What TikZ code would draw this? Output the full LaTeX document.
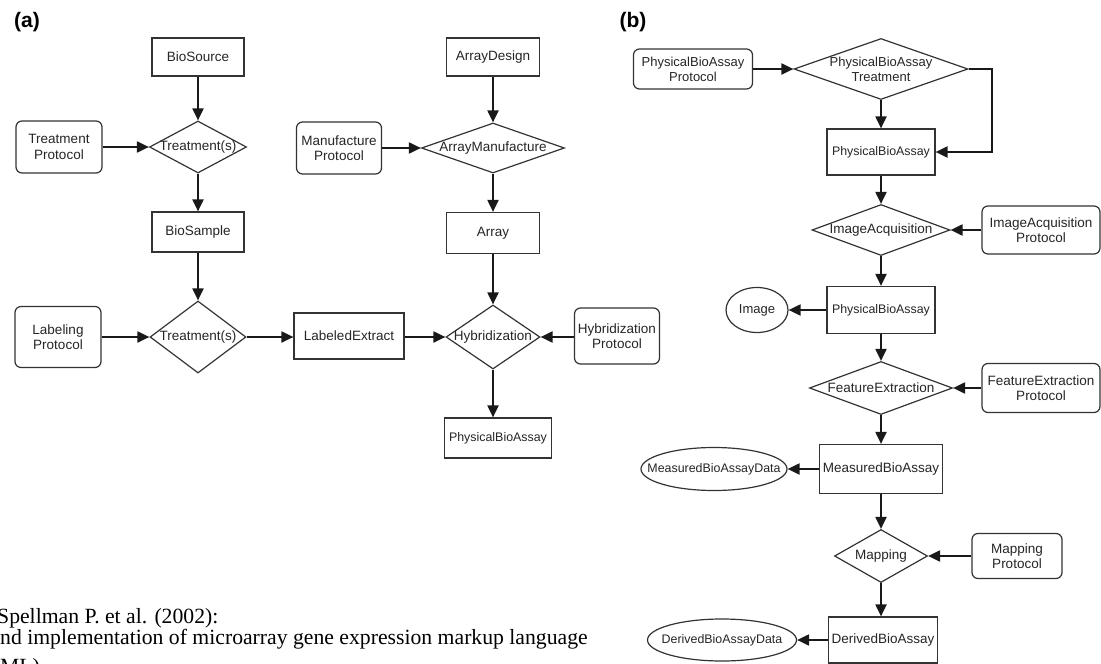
\documentclass[tikz,border=0pt]{standalone}
\usepackage{fontspec}
\setmainfont{Liberation Serif}
\setsansfont{Liberation Sans}
\usetikzlibrary{shapes.geometric,arrows.meta}
\tikzset{
  afont/.style={font=\sffamily\fontsize{13.5}{15.5}\selectfont},
  sfont/.style={font=\sffamily\fontsize{12.4}{14}\selectfont},
  base/.style={draw=black!80, line width=1.2pt, inner sep=0pt, afont, text=black!85, align=center},
  every label/.style={afont, text=black!85, align=center, inner sep=0pt},
  entbox/.style={base, rectangle},
  protbox/.style={base, rectangle, rounded corners=6pt},
  dia/.style={base, diamond},
  ell/.style={base, ellipse},
  arr/.style={draw=black!90, line width=2pt, -{Triangle[length=12pt,width=11pt]}},
  panel/.style={font=\sffamily\bfseries\fontsize{21}{24}\selectfont},
  captext/.style={font=\rmfamily\fontsize{21.7}{24}\selectfont, inner sep=0pt, anchor=base west}
}
\begin{document}
\begin{tikzpicture}[x=1pt,y=-1pt]
\useasboundingbox (0,0) rectangle (1101,664);
\clip (0,0) rectangle (1101,664);
\fill[white] (0,0) rectangle (1101,664);

% ---------- panel (a) ----------
\node[panel] (la) at (27,22) {(a)};
\node[entbox, minimum width=92, minimum height=38] (bs) at (198,57) {BioSource};
\node[dia, minimum width=97, minimum height=52, label={center:Treatment(s)}] (d1) at (198,147) {};
\node[protbox, minimum width=86, minimum height=52] (tp) at (59,147) {Treatment\\Protocol};
\node[entbox, minimum width=92, minimum height=40] (bsamp) at (198,232) {BioSample};
\node[dia, minimum width=96, minimum height=72, label={center:Treatment(s)}] (d2) at (198,337) {};
\node[protbox, minimum width=86, minimum height=61] (lp) at (58,337) {Labeling\\Protocol};
\node[entbox, minimum width=110, minimum height=46] (le) at (349,336) {LabeledExtract};
\node[dia, minimum width=94, minimum height=64, label={center:Hybridization}] (hyb) at (493,337) {};
\node[protbox, minimum width=85, minimum height=56] (hp) at (617,336) {Hybridization\\Protocol};
\node[entbox, minimum width=93, minimum height=38] (ad) at (493,57) {ArrayDesign};
\node[dia, minimum width=143, minimum height=50, label={center:ArrayManufacture}] (am) at (493,148) {};
\node[protbox, minimum width=85, minimum height=52] (mp) at (339,148) {Manufacture\\Protocol};
\node[entbox, minimum width=93, minimum height=41] (ar) at (493,233) {Array};
\node[entbox, sfont, minimum width=107, minimum height=40] (pba) at (498,438) {PhysicalBioAssay};

\draw[arr] (bs.south) -- (d1.north);
\draw[arr] (tp.east) -- (d1.west);
\draw[arr] (d1.south) -- (bsamp.north);
\draw[arr] (bsamp.south) -- (d2.north);
\draw[arr] (lp.east) -- (d2.west);
\draw[arr] (d2.east) -- (le.west |- d2.east);
\draw[arr] (le.east |- hyb.west) -- (hyb.west);
\draw[arr] (ad.south) -- (am.north);
\draw[arr] (mp.east) -- (am.west);
\draw[arr] (am.south) -- (ar.north);
\draw[arr] (ar.south) -- (hyb.north);
\draw[arr] (hp.west |- hyb.east) -- (hyb.east);
\draw[arr] (hyb.south) -- (hyb.south |- pba.north);

% ---------- panel (b) ----------
\node[panel] (lb) at (633,22) {(b)};
\node[protbox, font=\sffamily\fontsize{13}{15}\selectfont, minimum width=119, minimum height=40] (pbp) at (693,69) {PhysicalBioAssay\\Protocol};
\node[dia, minimum width=174, minimum height=61, label={[font=\sffamily\fontsize{13}{15}\selectfont]center:PhysicalBioAssay\\Treatment}] (pbt) at (881,69) {};
\node[entbox, sfont, minimum width=108, minimum height=46] (pb1) at (881,152) {PhysicalBioAssay};
\node[dia, minimum width=138, minimum height=51, label={center:ImageAcquisition}] (ia) at (881,230) {};
\node[protbox, minimum width=118, minimum height=48] (iap) at (1041,230) {ImageAcquisition\\Protocol};
\node[entbox, sfont, minimum width=108, minimum height=47] (pb2) at (881,310) {PhysicalBioAssay};
\node[ell, minimum width=62, minimum height=45, label={[font=\sffamily\fontsize{13}{15}\selectfont]center:Image}] (img) at (757,310) {};
\node[dia, minimum width=143, minimum height=53, label={center:FeatureExtraction}] (fe) at (881,388) {};
\node[protbox, minimum width=118, minimum height=49] (fep) at (1041,388) {FeatureExtraction\\Protocol};
\node[entbox, minimum width=123, minimum height=49] (mb) at (881,469) {MeasuredBioAssay};
\node[ell, minimum width=146, minimum height=43, label={[sfont]center:MeasuredBioAssayData}] (mbd) at (714,469) {};
\node[dia, minimum width=93, minimum height=53, label={center:Mapping}] (map) at (881,556) {};
\node[protbox, minimum width=90, minimum height=45] (mapp) at (1017,556) {Mapping\\Protocol};
\node[entbox, minimum width=109, minimum height=46] (db) at (883,640) {DerivedBioAssay};
\node[ell, minimum width=149, minimum height=42, label={[sfont]center:DerivedBioAssayData}] (dbd) at (722,640) {};

\draw[arr] (pbp.east) -- (pbt.west);
\draw[arr] (pbt.south) -- (pb1.north);
\draw[arr] (pbt.east) -- ++(23,0) |- (pb1.east);
\draw[arr] (pb1.south) -- (ia.north);
\draw[arr] (iap.west) -- (ia.east);
\draw[arr] (ia.south) -- (pb2.north);
\draw[arr] (pb2.west) -- (img.east);
\draw[arr] (pb2.south) -- (fe.north);
\draw[arr] (fep.west) -- (fe.east);
\draw[arr] (fe.south) -- (mb.north);
\draw[arr] (mb.west) -- (mbd.east);
\draw[arr] (mb.south) -- (map.north);
\draw[arr] (mapp.west) -- (map.east);
\draw[arr] (map.south) -- (map.south |- db.north);
\draw[arr] (db.west) -- (dbd.east |- db.west);

% ---------- caption (cut off at the page edge, as in the reference) ----------
\node[captext] (c1) at (-3,623) {Spellman P. et al. (2002):};
\node[captext] (c2) at (0,644) {nd implementation of microarray gene expression markup language};
\node[captext] (c3) at (0,673) {ML)};
\end{tikzpicture}
\end{document}
